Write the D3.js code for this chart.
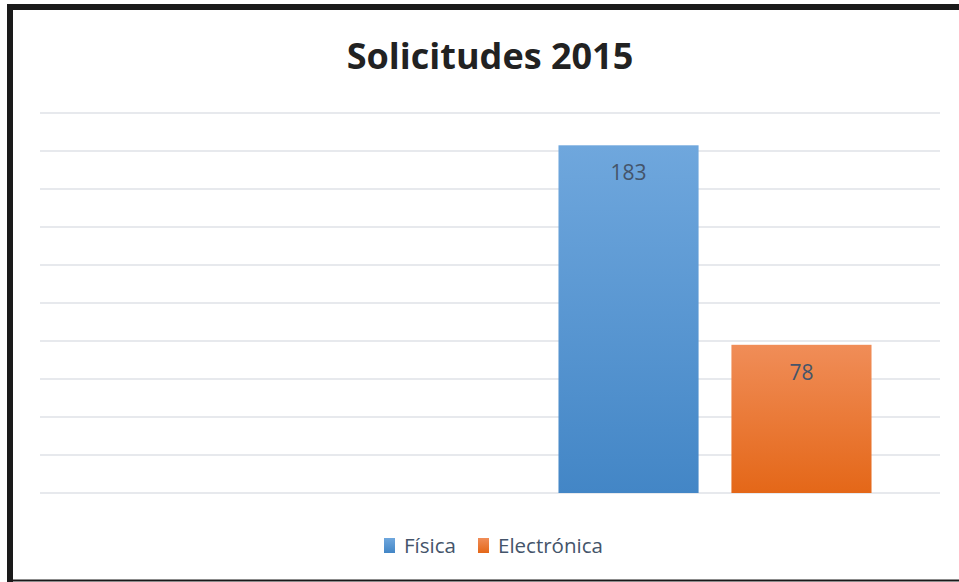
<!DOCTYPE html>
<html lang="es">
<head>
    <meta charset="UTF-8">
    <script src="https://cdn.jsdelivr.net/npm/d3@7"></script>
    <title>Solicitudes 2015</title>
    <style>
        * { margin: 0; padding: 0; box-sizing: border-box; }
        body { background: white; }
        svg { display: block; font-family: "Open Sans", "Noto Sans", sans-serif; }
    </style>
</head>
<body>
    <svg width="959" height="582"></svg>
    <script>
        let categories = ['', '2015']
        let seriesNames = ['Física', 'Electrónica']
        let fisica = [null, 183]
        let electronica = [null, 78]
        let yTicks = [0, 20, 40, 60, 80, 100, 120, 140, 160, 180, 200]

        let series = [fisica, electronica]
        let colors = [
            { top: '#6fa7dd', bottom: '#4386c6' },
            { top: '#f08d58', bottom: '#e46718' }
        ]

        let svg = d3.select('svg')

        // frame (right and bottom edges run past the picture)
        svg.append('rect')
            .attr('x', 10).attr('y', 7)
            .attr('width', 990).attr('height', 620)
            .attr('fill', 'white')
            .attr('stroke', '#1a1a1a')
            .attr('stroke-width', 6)
        svg.append('line')
            .attr('x1', 7).attr('x2', 959)
            .attr('y1', 580.5).attr('y2', 580.5)
            .attr('stroke', '#1a1a1a')
            .attr('stroke-width', 2)

        let defs = svg.append('defs')
        colors.forEach((c, i) => {
            let g = defs.append('linearGradient')
                .attr('id', 'grad' + i)
                .attr('x1', 0).attr('x2', 0).attr('y1', 0).attr('y2', 1)
            g.append('stop').attr('offset', '0%').attr('stop-color', c.top)
            g.append('stop').attr('offset', '100%').attr('stop-color', c.bottom)
        })

        let xScale = d3.scaleBand()
            .domain(categories)
            .range([40, 940])

        let xInner = d3.scaleBand()
            .domain(seriesNames)
            .range([0, xScale.bandwidth()])
            .paddingInner(0.19)
            .paddingOuter(0.396)

        let yScale = d3.scaleLinear()
            .domain([0, 200])
            .range([493, 113])

        // gridlines
        svg.append('g')
            .selectAll('line')
            .data(yTicks)
            .join('line')
            .attr('x1', 40).attr('x2', 940)
            .attr('y1', d => yScale(d)).attr('y2', d => yScale(d))
            .attr('stroke', '#dfe2e7')
            .attr('stroke-width', 1.5)

        // bars
        seriesNames.forEach((name, si) => {
            let data = categories.map((c, ci) => ({ c, v: series[si][ci] }))
                .filter(d => d.v != null)
            let g = svg.append('g')
            g.selectAll('rect')
                .data(data)
                .join('rect')
                .attr('x', d => xScale(d.c) + xInner(name))
                .attr('y', d => yScale(d.v))
                .attr('width', xInner.bandwidth())
                .attr('height', d => yScale(0) - yScale(d.v))
                .attr('fill', `url(#grad${si})`)
            g.selectAll('text')
                .data(data)
                .join('text')
                .attr('x', d => xScale(d.c) + xInner(name) + xInner.bandwidth() / 2)
                .attr('y', d => yScale(d.v) + 35)
                .attr('text-anchor', 'middle')
                .attr('font-size', 21)
                .attr('fill', '#44546a')
                .text(d => d.v)
        })

        // title
        svg.append('text')
            .attr('x', 490).attr('y', 69)
            .attr('text-anchor', 'middle')
            .attr('font-size', 36)
            .attr('font-weight', 'bold')
            .attr('fill', '#222')
            .text('Solicitudes 2015')

        // legend
        let legendX = [384, 478]
        let legend = svg.append('g')
        seriesNames.forEach((name, i) => {
            legend.append('rect')
                .attr('x', legendX[i]).attr('y', 538)
                .attr('width', 11).attr('height', 15)
                .attr('fill', `url(#grad${i})`)
            legend.append('text')
                .attr('x', legendX[i] + 20).attr('y', 553)
                .attr('font-size', 20.5)
                .attr('fill', '#44546a')
                .text(name)
        })
    </script>
</body>
</html>
